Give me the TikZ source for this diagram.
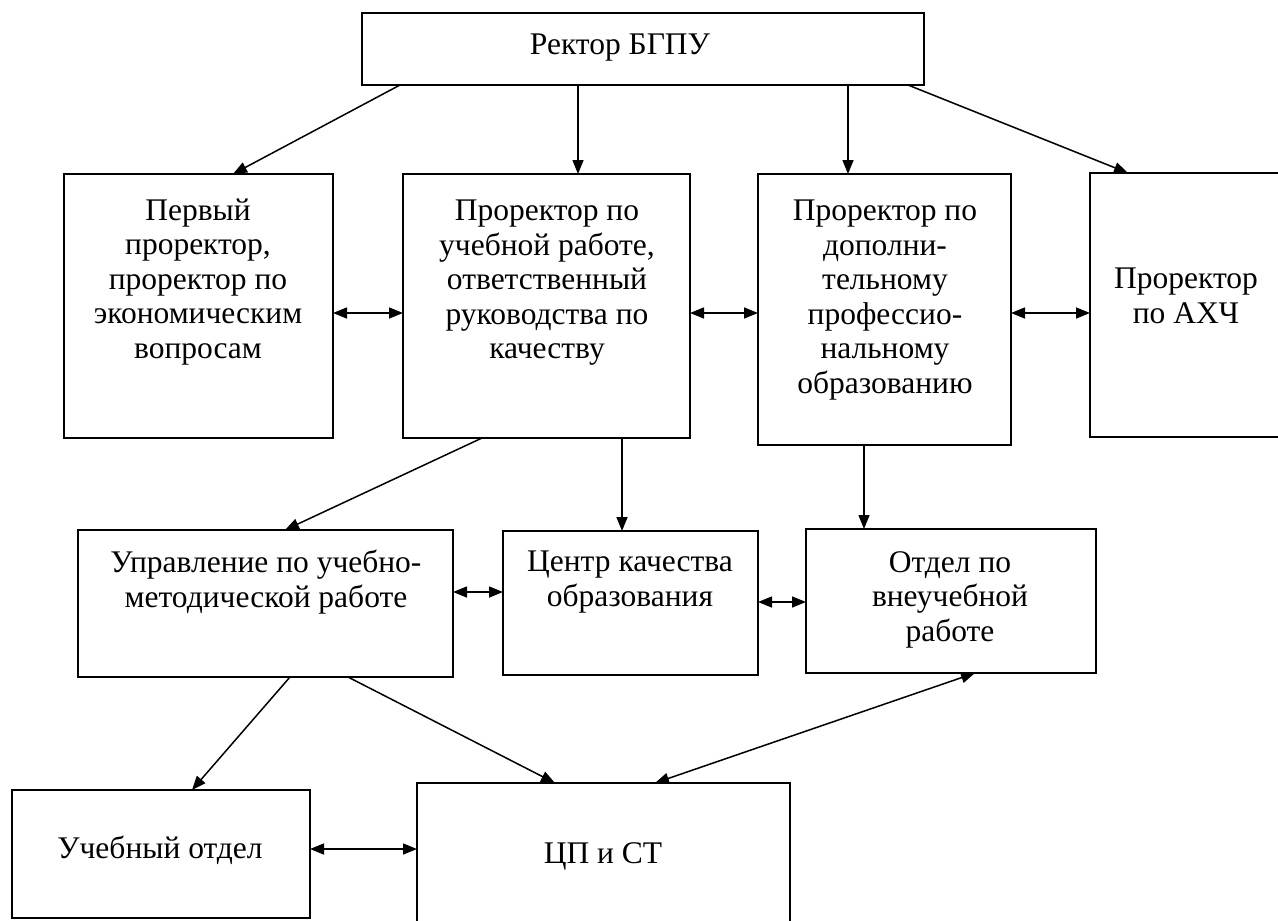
\documentclass[tikz,border=0pt]{standalone}
\usepackage{fontspec}
\setmainfont{Liberation Serif}
\usetikzlibrary{arrows.meta}
\begin{document}
\begin{tikzpicture}[x=1pt,y=-1pt,
  box/.style={draw=black,line width=1.5pt,inner sep=0pt,outer sep=0pt,fill=none},
  txt/.style={align=center,inner sep=0pt,font=\fontsize{31.5}{34.5}\selectfont},
  arr/.style={line width=1.5pt,-{Triangle[length=14pt,width=11pt]}},
  darr/.style={line width=1.5pt,{Triangle[length=14pt,width=11pt]}-{Triangle[length=14pt,width=11pt]}}]
\useasboundingbox (0,0) rectangle (1278,921);
% boxes
\node[box,minimum width=562pt,minimum height=72pt] (R) at (643,49) {};
\node[box,minimum width=269pt,minimum height=264pt] (A) at (198.5,306) {};
\node[box,minimum width=287pt,minimum height=264pt] (B) at (546.5,306) {};
\node[box,minimum width=253pt,minimum height=271pt] (C) at (884.5,309.5) {};
\node[box,minimum width=192pt,minimum height=264pt] (D) at (1186,305) {};
\node[box,minimum width=375pt,minimum height=147pt] (E) at (265.5,603.5) {};
\node[box,minimum width=255pt,minimum height=144pt] (F) at (630.5,603) {};
\node[box,minimum width=290pt,minimum height=144pt] (G) at (951,601) {};
\node[box,minimum width=298pt,minimum height=128pt] (H) at (161,854) {};
\node[box,minimum width=373pt,minimum height=147pt] (I) at (603.5,856.5) {};
% texts
\node[txt] (Rt) at (620,48) {Ректор БГПУ};
\node[txt] (At) at (198,282) {Первый\\проректор,\\проректор по\\экономическим\\вопросам};
\node[txt] (Bt) at (547,283) {Проректор по\\учебной работе,\\ответственный\\руководства по\\качеству};
\node[txt] (Ct) at (885,300) {Проректор по\\дополни-\\тельному\\профессио-\\нальному\\образованию};
\node[txt] (Dt) at (1186,296) {Проректор\\по АХЧ};
\node[txt] (Et) at (266,582) {Управление по учебно-\\методической работе};
\node[txt] (Ft) at (630,582) {Центр качества\\образования};
\node[txt] (Gt) at (950,599.5) {Отдел по\\внеучебной\\работе};
\node[txt] (Ht) at (160,850) {Учебный отдел};
\node[txt] (It) at (603,856) {ЦП и СТ};
% connectors from rector
\draw[arr] (R.south -| 400,0) -- (A.north -| 233,0);
\draw[arr] (R.south -| 578,0) -- (B.north -| 578,0);
\draw[arr] (R.south -| 848,0) -- (C.north -| 848,0);
\draw[arr] (R.south -| 908,0) -- (D.north -| 1128,0);
% horizontal links row 2
\draw[darr] (A.east |- 0,313) -- (B.west |- 0,313);
\draw[darr] (B.east |- 0,313) -- (C.west |- 0,313);
\draw[darr] (C.east |- 0,313) -- (D.west |- 0,313);
% row 2 to row 3
\draw[arr] (B.south -| 482,0) -- (E.north -| 285,0);
\draw[arr] (B.south -| 622,0) -- (F.north -| 622,0);
\draw[arr] (C.south -| 864,0) -- (G.north -| 864,0);
% row 3 links
\draw[darr] (E.east |- 0,592) -- (F.west |- 0,592);
\draw[darr] (F.east |- 0,602) -- (G.west |- 0,602);
% row 3 to row 4
\draw[arr] (E.south -| 290,0) -- (H.north -| 192,0);
\draw[arr] (E.south -| 348,0) -- (I.north -| 555,0);
\draw[darr] (G.south -| 975,0) -- (I.north -| 655,0);
\draw[darr] (H.east |- 0,849) -- (I.west |- 0,849);
\end{tikzpicture}
\end{document}
